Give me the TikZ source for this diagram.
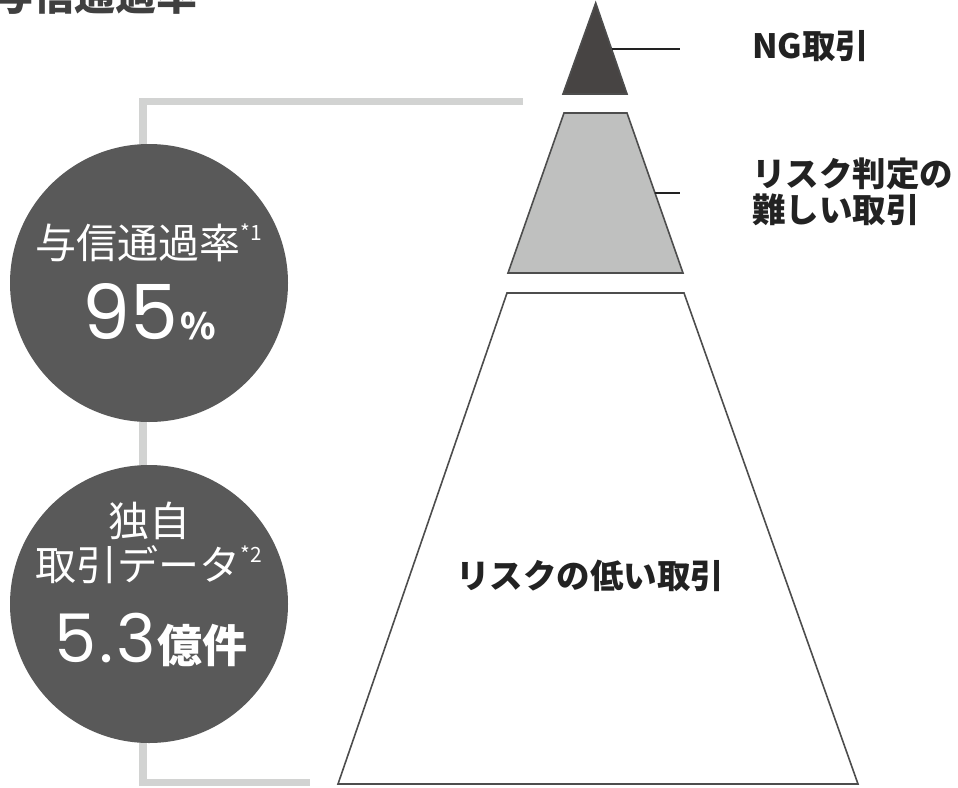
\documentclass[tikz,border=0pt]{standalone}
\usepackage{fontspec}
\setmainfont{Noto Sans CJK JP}
\newfontfamily\numfont{Poppins}
\definecolor{darktri}{HTML}{474443}
\definecolor{circfill}{HTML}{595959}
\definecolor{midfill}{HTML}{BFC0BF}
\definecolor{edgec}{HTML}{4D4D4D}
\definecolor{bracketc}{HTML}{D2D3D2}
\definecolor{titlec}{HTML}{404040}
\definecolor{labelc}{HTML}{222222}
\begin{document}
\begin{tikzpicture}[x=1pt,y=-1pt,
  tier/.style={draw=edgec, line width=1.6pt, line join=miter},
  leader/.style={draw=labelc, line width=1.4pt},
  bigcirc/.style={circle, fill=circfill, minimum size=278pt, inner sep=0pt},
  ctext/.style={text=white, anchor=base, inner sep=0pt},
  rlabel/.style={text=labelc, anchor=base west, inner sep=0pt, font=\bfseries\fontsize{33.5}{33.5}\selectfont}]
\useasboundingbox (0,0) rectangle (958,787);
% title (cut off at top)
\node[anchor=base west, inner sep=0pt, text=titlec, font=\bfseries\fontsize{41}{41}\selectfont] (title) at (-8,10) {与信通過率};
% bracket
\draw[bracketc, line width=7.5pt, line join=miter] (523,101.5) -- (143,101.5) -- (143,782.5) -- (310,782.5);
% pyramid tiers
\draw[tier, fill=darktri] (595.7,3) -- (627,94) -- (563,94) -- cycle;
\draw[tier, fill=midfill] (564,113) -- (627,113) -- (683,273) -- (508,273) -- cycle;
\draw[tier, fill=white] (507,293) -- (684,293) -- (858,784) -- (338,784) -- cycle;
% leaders
\coordinate (ngA) at (611.5,49);
\coordinate (ngB) at (680,49);
\coordinate (mdA) at (655,193);
\coordinate (mdB) at (680,193);
\draw[leader] (ngA) -- (ngB);
\draw[leader] (mdA) -- (mdB);
% right labels
\node[rlabel] (ng) at (752,58) {NG取引};
\node[rlabel] (hard1) at (752,186) {リスク判定の};
\node[rlabel] (hard2) at (752,222) {難しい取引};
\node[text=labelc, anchor=base, inner sep=0pt, font=\bfseries\fontsize{33.5}{33.5}\selectfont] (low) at (590,588) {リスクの低い取引};
% circles
\node[bigcirc] (c1) at (149,283) {};
\node[bigcirc] (c2) at (149,604) {};
\node[ctext, font=\fontsize{41}{41}\selectfont] (c1a) at (149,258) {与信通過率\raisebox{0.42em}{\fontsize{21}{21}\selectfont *1}};
\node[ctext] (c1b) at (149,339) {{\numfont\fontsize{76}{76}\selectfont 95}\kern2pt{\fontsize{36}{36}\selectfont\bfseries \%}};
\node[ctext, font=\fontsize{41}{41}\selectfont] (c2a) at (149,536) {独自};
\node[ctext, font=\fontsize{41}{41}\selectfont] (c2b) at (149,580) {取引データ\raisebox{0.42em}{\fontsize{21}{21}\selectfont *2}};
\node[ctext] (c2c) at (151,662) {{\numfont\fontsize{67}{67}\selectfont 5\kern3pt.\kern3pt3}\kern1pt{\fontsize{45}{45}\selectfont\bfseries 億件}};
\end{tikzpicture}
\end{document}
